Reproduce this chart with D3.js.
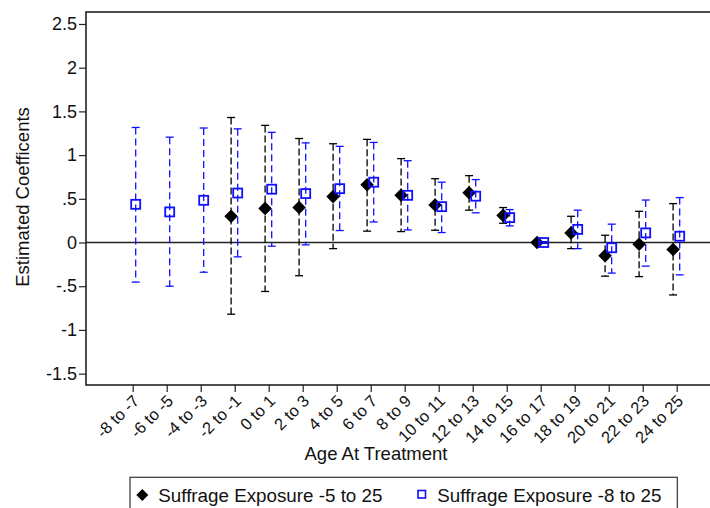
<!DOCTYPE html>
<html>
<head>
<meta charset="utf-8">
<script src="https://cdn.jsdelivr.net/npm/d3@7"></script>
<style>
  html, body { margin: 0; padding: 0; background: #fff; }
  svg { display: block; font-family: "Liberation Sans", Arial, sans-serif; }
</style>
</head>
<body>
<svg id="chart" width="710" height="508"></svg>
<script>
// ---- data ----
const categories = ["-8 to -7","-6 to -5","-4 to -3","-2 to -1","0 to 1","2 to 3","4 to 5","6 to 7",
  "8 to 9","10 to 11","12 to 13","14 to 15","16 to 17","18 to 19","20 to 21","22 to 23","24 to 25"];

// Series A: Suffrage Exposure -5 to 25 (starts at "-2 to -1")
const catsA = ["-2 to -1","0 to 1","2 to 3","4 to 5","6 to 7","8 to 9","10 to 11","12 to 13",
  "14 to 15","16 to 17","18 to 19","20 to 21","22 to 23","24 to 25"];
const estA = [0.30, 0.39, 0.40, 0.525, 0.66, 0.54, 0.43, 0.57, 0.31, 0.00, 0.11, -0.15, -0.02, -0.08];
const hiA  = [1.43, 1.34, 1.19, 1.13, 1.18, 0.96, 0.73, 0.765, 0.40, 0.01, 0.30, 0.083, 0.357, 0.445];
const loA  = [-0.82, -0.56, -0.38, -0.07, 0.13, 0.125, 0.14, 0.37, 0.22, -0.01, -0.07, -0.385, -0.39, -0.60];

// Series B: Suffrage Exposure -8 to 25
const catsB = categories;
const estB = [0.437, 0.35, 0.483, 0.566, 0.61, 0.56, 0.616, 0.69, 0.54, 0.41, 0.53, 0.285, 0.00, 0.15, -0.06, 0.11, 0.072];
const hiB  = [1.316, 1.205, 1.31, 1.30, 1.26, 1.14, 1.10, 1.145, 0.936, 0.69, 0.72, 0.377, 0.01, 0.37, 0.21, 0.486, 0.514];
const loB  = [-0.453, -0.50, -0.34, -0.164, -0.042, -0.027, 0.137, 0.235, 0.144, 0.114, 0.34, 0.19, -0.01, -0.07, -0.35, -0.27, -0.37];

const yTickValues = [-1.5, -1, -0.5, 0, 0.5, 1, 1.5, 2, 2.5];
const yTickLabels = ["-1.5", "-1", "-.5", "0", ".5", "1", "1.5", "2", "2.5"];

const seriesNames = ["Suffrage Exposure -5 to 25", "Suffrage Exposure -8 to 25"];

// ---- layout ----
const svg = d3.select("#chart");
const pL = 86, pR = 712, pT = 12, pB = 385;
const blue = "#1010ff";

const x = d3.scalePoint().domain(categories).range([132.7, 676.7]);
const y = d3.scaleLinear().domain([-1.63, 2.637]).range([pB, pT]);

// frame
svg.append("rect").attr("x", pL).attr("y", pT).attr("width", pR - pL).attr("height", pB - pT)
  .attr("fill", "none").attr("stroke", "#222").attr("stroke-width", 1.6);

// zero line
svg.append("line").attr("x1", pL).attr("x2", pR).attr("y1", y(0)).attr("y2", y(0))
  .attr("stroke", "#222").attr("stroke-width", 1.4);

// y axis
const yAxis = d3.axisLeft(y).tickValues(yTickValues)
  .tickFormat((d, i) => yTickLabels[i]).tickSize(7).tickPadding(2);
const gy = svg.append("g").attr("transform", `translate(${pL},0)`).call(yAxis);
gy.select(".domain").remove();
gy.selectAll(".tick line").attr("stroke", "#222").attr("stroke-width", 1.2);
gy.selectAll(".tick text").attr("font-size", 18).attr("fill", "#111").attr("font-family", "Liberation Sans, Arial, sans-serif");

// x axis
const xAxis = d3.axisBottom(x).tickSize(7).tickPadding(2);
const gx = svg.append("g").attr("transform", `translate(0,${pB})`).call(xAxis);
gx.select(".domain").remove();
gx.selectAll(".tick line").attr("stroke", "#222").attr("stroke-width", 1.2);
gx.selectAll(".tick text")
  .attr("font-size", 16.5).attr("fill", "#111").attr("font-family", "Liberation Sans, Arial, sans-serif")
  .attr("text-anchor", "end").attr("dy", null).attr("y", 0).attr("x", 0)
  .attr("transform", "translate(7,17) rotate(-45)");

// axis titles
svg.append("text").attr("x", 376).attr("y", 460).attr("text-anchor", "middle")
  .attr("font-size", 18.5).attr("fill", "#111").text("Age At Treatment");
svg.append("text").attr("transform", "translate(29,197) rotate(-90)").attr("text-anchor", "middle")
  .attr("font-size", 18.5).attr("fill", "#111").text("Estimated Coefficents");

// error bars + markers
function drawSeries(cats, est, hi, lo, dx, color, dash, marker) {
  const g = svg.append("g");
  const rows = cats.map((c, i) => ({ c, e: est[i], h: hi[i], l: lo[i] }));
  g.selectAll("line.bar").data(rows).join("line").attr("class", "bar")
    .attr("x1", d => x(d.c) + dx).attr("x2", d => x(d.c) + dx)
    .attr("y1", d => y(d.h)).attr("y2", d => y(d.l))
    .attr("stroke", color).attr("stroke-width", 1.3).attr("stroke-dasharray", dash);
  ["h", "l"].forEach(k => {
    g.selectAll("line.cap" + k).data(rows).join("line").attr("class", "cap" + k)
      .attr("x1", d => x(d.c) + dx - 4).attr("x2", d => x(d.c) + dx + 4)
      .attr("y1", d => y(d[k])).attr("y2", d => y(d[k]))
      .attr("stroke", color).attr("stroke-width", 1.3);
  });
  if (marker === "diamond") {
    g.selectAll("path.m").data(rows).join("path").attr("class", "m")
      .attr("d", d => { const cx = x(d.c) + dx, cy = y(d.e), r = 6.8;
        return `M${cx},${cy - r}L${cx + r},${cy}L${cx},${cy + r}L${cx - r},${cy}Z`; })
      .attr("fill", "#000");
  } else {
    g.selectAll("rect.m").data(rows).join("rect").attr("class", "m")
      .attr("x", d => x(d.c) + dx - 4.5).attr("y", d => y(d.e) - 4.5)
      .attr("width", 9).attr("height", 9)
      .attr("fill", "none").attr("stroke", color).attr("stroke-width", 1.8);
  }
}
drawSeries(catsA, estA, hiA, loA, -3.6, "#000", "7,3", "diamond");
drawSeries(catsB, estB, hiB, loB, 3, blue, "7,4", "square");

// legend
const lg = svg.append("g");
lg.append("rect").attr("x", 130).attr("y", 477.3).attr("width", 547.3).attr("height", 45)
  .attr("fill", "#fff").attr("stroke", "#333").attr("stroke-width", 1.2);
lg.append("path").attr("d", "M142.3,489L148.3,495L142.3,501L136.3,495Z").attr("fill", "#000");
lg.append("text").attr("x", 158.3).attr("y", 501.5).attr("font-size", 18.8).attr("fill", "#111").text(seriesNames[0]);
lg.append("rect").attr("x", 418).attr("y", 490.5).attr("width", 7.5).attr("height", 7.5)
  .attr("fill", "none").attr("stroke", blue).attr("stroke-width", 1.6);
lg.append("text").attr("x", 437.3).attr("y", 501.5).attr("font-size", 18.8).attr("fill", "#111").text(seriesNames[1]);
</script>
</body>
</html>
